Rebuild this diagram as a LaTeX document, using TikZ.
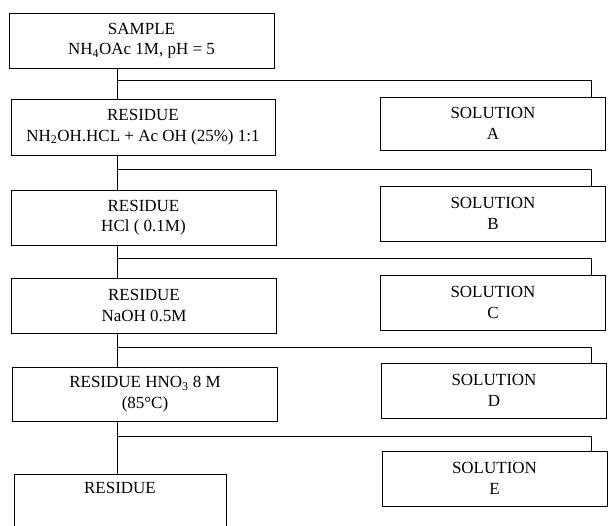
\documentclass[tikz,border=0pt]{standalone}
\usepackage{fontspec}
\setmainfont{Liberation Serif}
\usepackage{tikz}

\begin{document}
\begin{tikzpicture}[x=1pt,y=-1pt,line width=1pt,font=\fontsize{17}{20.5}\selectfont,
  resbox/.style={draw,align=center,inner sep=0pt,minimum width=265pt,minimum height=55pt},
  solbox/.style={draw,align=center,inner sep=0pt,minimum width=225pt,minimum height=55pt}]
\useasboundingbox (0,0) rectangle (608,525);
\clip (0,0) rectangle (608,525);
\coordinate (trunk) at (117,0);
\coordinate (branch) at (591,0);
\node[resbox] (sample) at (141.5,40.5) {SAMPLE\\NH\textsubscript{4}OAc 1M, pH = 5};
\node[resbox,minimum width=264pt,minimum height=56pt] (res1) at (143,127) {RESIDUE\\NH\textsubscript{2}OH.HCL + Ac OH (25\%) 1:1};
\node[solbox,minimum height=53pt] (solA) at (493,123.5) {SOLUTION\\A};
\node[resbox] (res2) at (143.5,217.5) {RESIDUE\\HCl ( 0.1M)};
\node[solbox] (solB) at (493,213.5) {SOLUTION\\B};
\node[resbox] (res3) at (144,305.5) {RESIDUE\\NaOH 0.5M};
\node[solbox] (solC) at (493,302.5) {SOLUTION\\C};
\node[resbox,minimum height=54pt] (res4) at (145,394) {RESIDUE HNO\textsubscript{3} 8 M\\(85°C)};
\node[solbox] (solD) at (494,390.5) {SOLUTION\\D};
\node[resbox,minimum width=212pt] (res5) at (120,501.5) {RESIDUE\\\strut};
\node[solbox] (solE) at (494.5,478.5) {SOLUTION\\E};
\draw (sample.south -| trunk) -- (res1.north -| trunk);
\draw (sample.south -| trunk) ++(0,12) -| (solA.north -| branch);
\draw (res1.south -| trunk) -- (res2.north -| trunk);
\draw (res1.south -| trunk) ++(0,14) -| (solB.north -| branch);
\draw (res2.south -| trunk) -- (res3.north -| trunk);
\draw (res2.south -| trunk) ++(0,13) -| (solC.north -| branch);
\draw (res3.south -| trunk) -- (res4.north -| trunk);
\draw (res3.south -| trunk) ++(0,14) -| (solD.north -| branch);
\draw (res4.south -| trunk) -- (res5.north -| trunk);
\draw (res4.south -| trunk) ++(0,15) -| (solE.north -| branch);
\end{tikzpicture}
\end{document}
